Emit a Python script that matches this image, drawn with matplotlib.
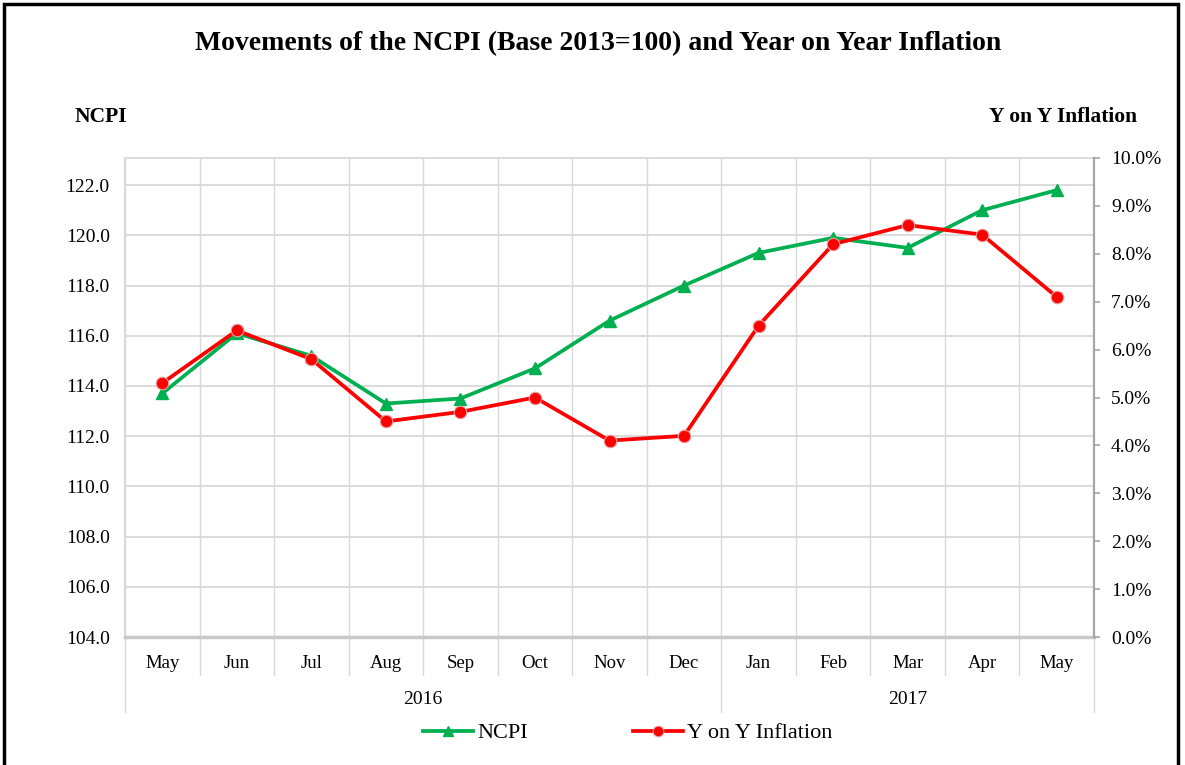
import matplotlib
matplotlib.use("Agg")
import matplotlib.pyplot as plt
import matplotlib.transforms as mtransforms
from matplotlib.patches import Rectangle
from matplotlib.ticker import FuncFormatter

months = ["May", "Jun", "Jul", "Aug", "Sep", "Oct", "Nov", "Dec",
          "Jan", "Feb", "Mar", "Apr", "May"]
years = ["2016", "2017"]
year_counts = [8, 5]
ncpi = [113.7, 116.1, 115.2, 113.3, 113.5, 114.7, 116.6, 118.0,
        119.3, 119.9, 119.5, 121.0, 121.8]
inflation = [5.3, 6.4, 5.8, 4.5, 4.7, 5.0, 4.1, 4.2,
             6.5, 8.2, 8.6, 8.4, 7.1]
left_ticks = [104, 106, 108, 110, 112, 114, 116, 118, 120, 122]
right_ticks = [0, 1, 2, 3, 4, 5, 6, 7, 8, 9, 10]

plt.rcParams['font.family'] = ['Liberation Serif', 'DejaVu Serif']

W, H = 1185, 765
fig = plt.figure(figsize=(W / 100, H / 100), dpi=100)
L, R, T, B = 125, 1094, 158, 637
ax = fig.add_axes([L / W, 1 - B / H, (R - L) / W, (B - T) / H])
ax2 = ax.twinx()
ax2.set_zorder(ax.get_zorder() + 1)
ax2.patch.set_visible(False)

green = "#00B050"
red = "#FF0000"
grid_c = "#D9D9D9"
tick_fs = 14

x = list(range(len(months)))
n = len(months)

ax.set_xlim(-0.5, n - 0.5)
ax.set_ylim(104, 123.08)
ax2.set_ylim(0, 10)

# gridlines
for yv in left_ticks:
    ax.axhline(yv, color=grid_c, lw=1.3, zorder=0)
for i in range(n + 1):
    ax.axvline(i - 0.5, color=grid_c, lw=1.0, zorder=0)

l1, = ax.plot(x, ncpi, color=green, lw=2.7, marker="^", markersize=8,
              markeredgecolor=green, zorder=3, label="NCPI")
l2, = ax2.plot(x, inflation, color=red, lw=2.7, marker="o", markersize=9,
               markeredgecolor="#E8A0A0", markeredgewidth=0.8, zorder=4,
               label="Y on Y Inflation")
ax2.set_xlim(-0.5, n - 0.5)

ax.set_yticks(left_ticks)
ax.yaxis.set_major_formatter(FuncFormatter(lambda v, p: f"{v:.1f}"))
ax.tick_params(axis="y", length=0, labelsize=tick_fs, pad=11)
ax.set_xticks([])

ax2.set_yticks(right_ticks)
ax2.yaxis.set_major_formatter(FuncFormatter(lambda v, p: f"{v:.1f}%"))
ax2.tick_params(axis="y", direction="out", length=4.3, width=1.2,
                color="#A6A6A6", labelsize=tick_fs, pad=8)

for a in (ax, ax2):
    for s in a.spines.values():
        s.set_visible(False)
ax2.spines["right"].set_visible(True)
ax2.spines["right"].set_color("#A6A6A6")
ax2.spines["right"].set_linewidth(1.6)
ax.spines["top"].set_visible(True)
ax.spines["top"].set_color(grid_c)
ax.spines["top"].set_linewidth(1.3)
ax.spines["left"].set_visible(True)
ax.spines["left"].set_color(grid_c)
ax.spines["left"].set_linewidth(1.5)
ax.spines["bottom"].set_visible(True)
ax.spines["bottom"].set_color("#C8C8C8")
ax.spines["bottom"].set_linewidth(2.5)

# two-level category axis
btr = mtransforms.blended_transform_factory(ax.transData, ax.transAxes)
ph = B - T
short = -(675 - B) / ph
long_ = -(712 - B) / ph
year_bounds = [-0.5]
for c in year_counts:
    year_bounds.append(year_bounds[-1] + c)
for i in range(n + 1):
    xb = i - 0.5
    yb = long_ if xb in year_bounds else short
    ax.plot([xb, xb], [0, yb], color=grid_c, lw=1.0, transform=btr,
            clip_on=False, zorder=0)
for i, m in enumerate(months):
    ax.text(i, -(663 - B) / ph, m, transform=btr, ha="center", va="center",
            fontsize=13.5)
for k, yr in enumerate(years):
    xc = (year_bounds[k] + year_bounds[k + 1]) / 2
    ax.text(xc, -(699 - B) / ph, yr, transform=btr, ha="center",
            va="center", fontsize=14)

# titles
fig.text(598 / W, 1 - 44 / H,
         "Movements of the NCPI (Base 2013=100) and Year on Year Inflation",
         ha="center", va="center", fontsize=20, fontweight="bold")
fig.text(75 / W, 1 - 117 / H, "NCPI", ha="left", va="center",
         fontsize=15.5, fontweight="bold")
fig.text(1137 / W, 1 - 117 / H, "Y on Y Inflation", ha="right",
         va="center", fontsize=15.5, fontweight="bold")

# legend
fig.legend([l1, l2], ["NCPI", "Y on Y Inflation"], loc="center",
           bbox_to_anchor=(628 / W, 1 - 733 / H), ncol=2, frameon=False,
           fontsize=16, handlelength=2.25, columnspacing=4.7,
           handletextpad=0.2, markerscale=0.85)

# figure border
fig.patches.append(Rectangle((4 / W, -0.02), (1178 - 4) / W, 1.02 - 4 / H,
                             transform=fig.transFigure, fill=False,
                             edgecolor="black", lw=2.5))

fig.savefig("out.png", dpi=100)
